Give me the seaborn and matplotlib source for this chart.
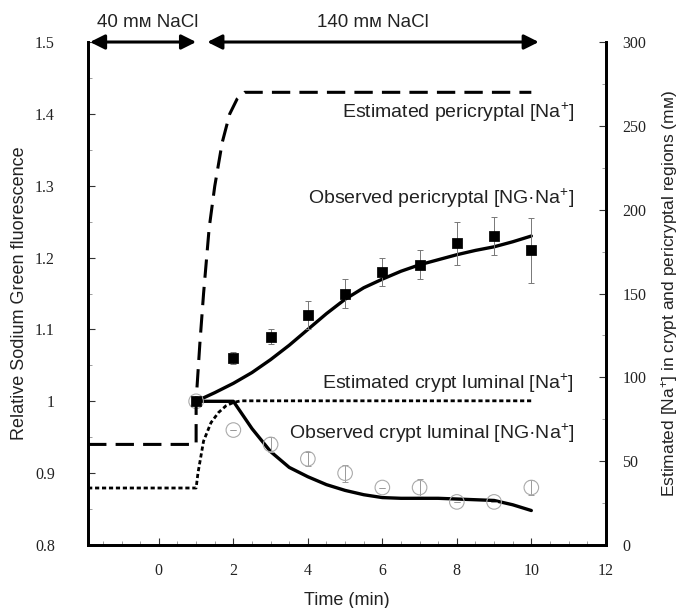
import numpy as np
import pandas as pd
import matplotlib
matplotlib.use("Agg")
import matplotlib.pyplot as plt
import seaborn as sns
from matplotlib.ticker import FixedLocator, FixedFormatter, MultipleLocator

# ---------------- data ----------------
time_obs = [1, 2, 3, 4, 5, 6, 7, 8, 9, 10]
peri_obs = [1.00, 1.06, 1.09, 1.12, 1.15, 1.18, 1.19, 1.22, 1.23, 1.21]
peri_err = [0.0, 0.008, 0.01, 0.02, 0.02, 0.02, 0.02, 0.03, 0.027, 0.045]
crypt_obs = [1.00, 0.96, 0.94, 0.92, 0.90, 0.88, 0.88, 0.86, 0.86, 0.88]
crypt_err = [0.0, 0.0, 0.01, 0.01, 0.012, 0.0, 0.012, 0.0, 0.0, 0.01]

time_model = [1, 1.5, 2, 2.5, 3, 3.5, 4, 4.5, 5, 5.5, 6, 6.5, 7, 7.5, 8, 8.5, 9, 9.5, 10]
peri_model = [1.00, 1.012, 1.025, 1.04, 1.058, 1.078, 1.10, 1.122, 1.142, 1.158, 1.17,
              1.181, 1.19, 1.197, 1.204, 1.21, 1.215, 1.222, 1.23]
crypt_model = [1.00, 1.00, 1.00, 0.962, 0.93, 0.908, 0.895, 0.884, 0.876, 0.87, 0.866,
               0.865, 0.865, 0.865, 0.864, 0.863, 0.862, 0.856, 0.848]

# estimated concentrations (mM, right axis)
time_est_peri = [-1.9, 1.0, 1.0, 1.1, 1.2, 1.35, 1.5, 1.7, 1.9, 2.1, 2.3, 2.5, 10]
est_peri = [60, 60, 86, 120, 150, 189, 214, 240, 257, 266, 270, 270, 270]
time_est_crypt = [-1.9, 1.0, 1.05, 1.2, 1.4, 1.6, 1.8, 2.0, 2.2, 10]
est_crypt = [34, 34, 43, 62, 73, 79, 83, 85, 86, 86]

xticks = [0, 2, 4, 6, 8, 10, 12]
yticks = [0.8, 0.9, 1.0, 1.1, 1.2, 1.3, 1.4, 1.5]
ytick_labels = ["0.8", "0.9", "1", "1.1", "1.2", "1.3", "1.4", "1.5"]
y2ticks = [0, 50, 100, 150, 200, 250, 300]

# ---------------- style ----------------
sns.set_theme(style="ticks")
plt.rcParams["font.family"] = ["Liberation Sans", "DejaVu Sans"]
plt.rcParams["mathtext.fontset"] = "custom"
plt.rcParams["mathtext.rm"] = "Liberation Sans"
plt.rcParams["mathtext.it"] = "Liberation Sans"

fig = plt.figure(figsize=(6.83, 6.08), dpi=100)
ax = fig.add_axes([0.129, 0.1036, 0.758, 0.8273])
ax2 = ax.twinx()

# estimated lines on right axis
sns.lineplot(x=time_est_peri, y=est_peri, ax=ax2, color="black", lw=2.2,
             sort=False, estimator=None)
ax2.lines[-1].set_dashes([6, 3])
sns.lineplot(x=time_est_crypt, y=est_crypt, ax=ax2, color="black", lw=2.0,
             sort=False, estimator=None)
ax2.lines[-1].set_dashes([1.5, 1.0])

# model lines on left axis
sns.lineplot(x=time_model, y=peri_model, ax=ax, color="black", lw=2.4, estimator=None)
sns.lineplot(x=time_model, y=crypt_model, ax=ax, color="black", lw=2.4, estimator=None)

# observed data
ax.errorbar(time_obs, crypt_obs, yerr=crypt_err, fmt="none", ecolor="#999999",
            elinewidth=0.7, capsize=2, capthick=0.7, zorder=3)
sns.scatterplot(x=time_obs, y=crypt_obs, ax=ax, marker="o", s=110,
                facecolor="none", edgecolor="#aaaaaa", linewidth=0.8, zorder=4)
ax.errorbar(time_obs, peri_obs, yerr=peri_err, fmt="none", ecolor="#777777",
            elinewidth=0.7, capsize=2, capthick=0.7, zorder=3)
sns.scatterplot(x=time_obs, y=peri_obs, ax=ax, marker="s", s=45,
                color="black", edgecolor="black", zorder=5)

# axes limits & ticks
ax.set_xlim(-1.9, 12)
ax.set_ylim(0.8, 1.5)
ax2.set_ylim(0, 300)
ax.xaxis.set_major_locator(FixedLocator(xticks))
ax.yaxis.set_major_locator(FixedLocator(yticks))
ax.yaxis.set_major_formatter(FixedFormatter(ytick_labels))
ax.yaxis.set_minor_locator(MultipleLocator(0.05))
ax.xaxis.set_minor_locator(MultipleLocator(0.5))
ax2.yaxis.set_major_locator(FixedLocator(y2ticks))
ax2.yaxis.set_minor_locator(MultipleLocator(25))

serif = "Liberation Serif"
for lab in ax.get_xticklabels() + ax.get_yticklabels() + ax2.get_yticklabels():
    lab.set_fontfamily(serif)
    lab.set_fontsize(11.5)
    lab.set_color("#222222")

ax.tick_params(axis="both", which="major", direction="in", length=5, width=0.8,
               colors="#333333", labelcolor="#222222")
ax.tick_params(axis="both", which="minor", direction="in", length=3, width=0.5,
               colors="#777777")
ax.tick_params(axis="x", pad=13)
ax.tick_params(axis="y", pad=24)
ax2.tick_params(axis="y", which="major", direction="in", length=5, width=0.8, pad=12,
                colors="#333333", labelcolor="#222222")
ax2.tick_params(axis="y", which="minor", direction="in", length=3, width=0.5,
                colors="#777777")

for a in (ax, ax2):
    a.spines["top"].set_visible(False)
    for s in ("left", "bottom", "right"):
        a.spines[s].set_linewidth(2.0)
        a.spines[s].set_color("black")

ax.set_xlabel("Time (min)", fontsize=13, labelpad=9, color="#222222")
ax.set_ylabel("Relative Sodium Green fluorescence", fontsize=13, labelpad=5, color="#222222")
ax2.set_ylabel("Estimated [Na$^{+}$] in crypt and pericryptal regions (mᴍ)",
               fontsize=12.5, labelpad=9, color="#222222")

# top arrows
arrow_kw = dict(arrowstyle="<|-|>", color="black", lw=2.2, mutation_scale=22,
                shrinkA=0, shrinkB=0)
ax.annotate("", xy=(1.0, 1.5), xytext=(-1.85, 1.5), arrowprops=arrow_kw,
            annotation_clip=False)
ax.annotate("", xy=(10.2, 1.5), xytext=(1.3, 1.5), arrowprops=arrow_kw,
            annotation_clip=False)
ax.text(-0.3, 1.527, "40 mᴍ NaCl", ha="center", va="center", fontsize=13.5,
        color="#222222", clip_on=False)
ax.text(5.75, 1.527, "140 mᴍ NaCl", ha="center", va="center", fontsize=13.5,
        color="#222222", clip_on=False)

# curve labels
lab_kw = dict(ha="right", va="center", fontsize=14, color="#222222")
ax.text(11.15, 1.402, "Estimated pericryptal [Na$^{+}$]", **lab_kw)
ax.text(11.15, 1.283, "Observed pericryptal [NG·Na$^{+}$]", **lab_kw)
ax.text(11.15, 1.025, "Estimated crypt luminal [Na$^{+}$]", **lab_kw)
ax.text(11.15, 0.955, "Observed crypt luminal [NG·Na$^{+}$]", **lab_kw)

fig.savefig("out.png", dpi=100)
